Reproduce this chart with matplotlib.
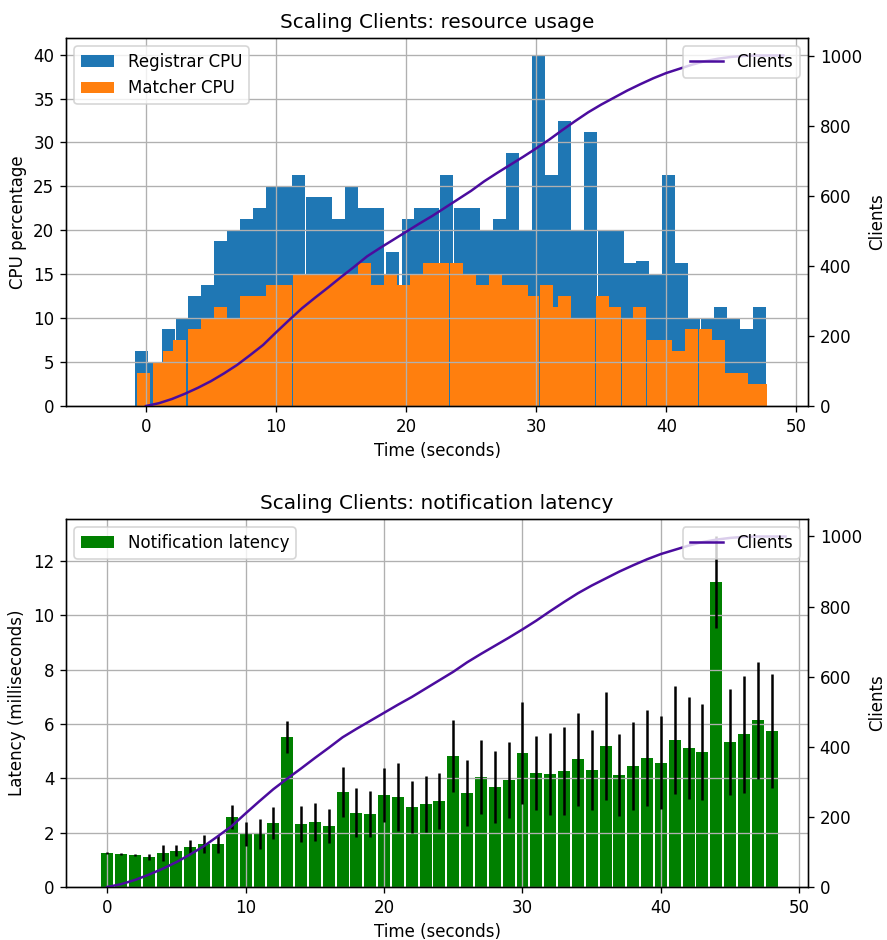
import numpy as np
import matplotlib
matplotlib.use('Agg')
import matplotlib.pyplot as plt

### data

# registrar cpu samples (sample start time in seconds, cpu %)
registrar_t = [-0.82, 0.0, 1.25, 2.3, 3.25, 4.2, 5.2, 6.2, 7.2, 8.2, 9.2, 10.2,
               11.25, 12.3, 13.3, 14.3, 15.3, 16.3, 17.3, 18.45, 19.7, 20.6, 21.55,
               22.6, 23.7, 24.65, 25.7, 26.7, 27.7, 28.7, 29.7, 30.7, 31.7, 32.7,
               33.7, 34.75, 35.75, 36.7, 37.7, 38.7, 39.7, 40.7, 41.6, 42.7, 43.7,
               44.7, 45.7, 46.7]
registrar_cpu = [6.25, 5.0, 8.75, 10.0, 12.5, 13.75, 18.75, 20.0, 21.25, 22.5, 25.0, 25.0,
                 26.25, 23.75, 23.75, 21.25, 25.0, 22.5, 22.5, 17.5, 21.25, 22.5, 22.5,
                 26.25, 22.5, 22.5, 20.0, 21.25, 28.75, 20.0, 40.0, 26.25, 32.5, 20.0,
                 31.25, 20.0, 20.0, 16.25, 16.5, 15.0, 26.25, 16.25, 10.0, 10.0, 11.25,
                 10.0, 8.75, 11.25]

# matcher cpu samples
matcher_t = [-0.67, 0.55, 1.3, 2.1, 3.2, 4.25, 5.2, 6.2, 7.2, 8.2, 9.2, 10.2,
             11.3, 12.3, 13.3, 14.3, 15.3, 16.3, 17.3, 18.3, 19.3, 20.3, 21.3,
             22.3, 23.35, 24.4, 25.4, 26.4, 27.4, 28.35, 29.25, 30.3, 31.2, 31.7,
             32.55, 33.5, 34.6, 35.5, 36.6, 37.45, 38.5, 39.45, 40.45, 41.45, 42.5,
             43.5, 44.5, 45.3, 46.0, 46.75]
matcher_cpu = [3.75, 5.0, 6.25, 7.5, 8.75, 10.0, 11.25, 10.0, 12.5, 12.5, 13.75, 13.75,
               15.0, 15.0, 15.0, 15.0, 15.0, 16.25, 13.75, 15.0, 13.75, 15.0, 16.25,
               16.25, 16.25, 15.0, 13.75, 15.0, 13.75, 13.75, 12.5, 13.75, 11.25, 12.5,
               10.0, 10.0, 12.5, 11.25, 10.0, 11.25, 7.5, 7.5, 6.25, 8.75, 8.75,
               7.5, 3.75, 3.75, 2.5, 2.5]

# number of clients over time
clients_t = list(range(0, 50))
clients = [0, 8, 20, 35, 52, 71, 93, 117, 145, 174, 210, 245, 279, 309, 338, 368,
           397, 427, 451, 474, 497, 520, 542, 566, 590, 614, 641, 665, 688, 711,
           735, 760, 787, 813, 838, 860, 880, 900, 918, 935, 950, 962, 974, 984,
           991, 996, 999, 1000, 1000, 1000]

# notification latency per second (mean, spread)
latency_t = list(range(0, 49))
latency_ms = [1.25, 1.22, 1.18, 1.1, 1.25, 1.33, 1.47, 1.58, 1.58, 2.58, 1.95, 1.95,
              2.36, 5.52, 2.32, 2.39, 2.25, 3.5, 2.73, 2.69, 3.39, 3.31, 2.94, 3.05,
              3.16, 4.82, 3.46, 4.05, 3.68, 3.95, 4.93, 4.2, 4.16, 4.27, 4.71, 4.31,
              5.2, 4.12, 4.46, 4.75, 4.57, 5.41, 5.12, 4.97, 11.23, 5.33, 5.62, 6.13,
              5.75]
latency_err = [0.02, 0.03, 0.05, 0.1, 0.28, 0.2, 0.25, 0.32, 0.33, 0.45, 0.45, 0.55,
               0.6, 0.6, 0.67, 0.7, 0.63, 0.92, 0.9, 0.85, 0.98, 1.26, 0.95, 1.02,
               1.04, 1.33, 1.21, 1.38, 1.33, 1.4, 1.87, 1.35, 1.51, 1.61, 1.71, 1.47,
               1.99, 1.5, 1.61, 1.77, 1.71, 1.98, 1.88, 1.76, 1.7, 1.96, 2.16, 2.15,
               2.1]

clients_color = '#4b0c9e'

# original was rendered at 120 dpi
fig, (ax1, ax3) = plt.subplots(2, 1, figsize=(887 / 120, 940 / 120), dpi=120)
fig.subplots_adjust(left=0.0744, right=0.911, top=0.9596, bottom=0.0564, hspace=0.307)

# resource usage
ax1.bar(registrar_t, registrar_cpu, width=1.0, align='edge', color='C0', label='Registrar CPU')
ax1.bar(matcher_t, matcher_cpu, width=1.0, align='edge', color='C1', label='Matcher CPU')
ax1.set_title('Scaling Clients: resource usage')
ax1.set_xlabel('Time (seconds)')
ax1.set_ylabel('CPU percentage')
ax1.set_xlim(-6.15, 50.9)
ax1.set_ylim(0, 41.9)
ax1.grid(True)
ax1.legend(loc='upper left')

ax2 = ax1.twinx()
ax2.plot(clients_t, clients, color=clients_color, label='Clients')
ax2.set_ylabel('Clients')
ax2.set_ylim(0, 1050)
ax2.legend(loc='upper right')

# notification latency
ax3.bar(latency_t, latency_ms, yerr=latency_err, width=0.86, color='green',
        ecolor='black', label='Notification latency')
ax3.set_title('Scaling Clients: notification latency')
ax3.set_xlabel('Time (seconds)')
ax3.set_ylabel('Latency (milliseconds)')
ax3.set_xlim(-2.98, 50.63)
ax3.set_ylim(0, 13.55)
ax3.grid(True)
ax3.legend(loc='upper left')

ax4 = ax3.twinx()
ax4.plot(clients_t, clients, color=clients_color, label='Clients')
ax4.set_ylabel('Clients')
ax4.set_ylim(0, 1050)
ax4.legend(loc='upper right')

fig.savefig('out.png', dpi=120)
